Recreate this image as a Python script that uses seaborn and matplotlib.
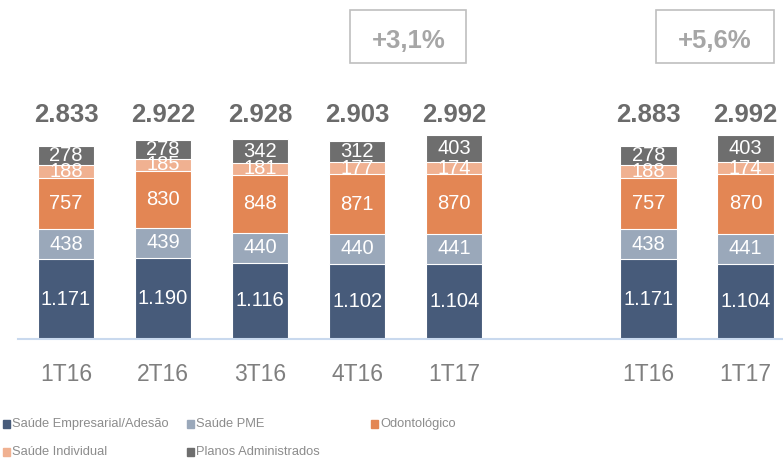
import numpy as np
import pandas as pd
import seaborn as sns
import matplotlib.pyplot as plt
from matplotlib.patches import Rectangle

# data
periods = ['1T16', '2T16', '3T16', '4T16', '1T17', '1T16', '1T17']
positions = [0, 1, 2, 3, 4, 6, 7]
series_names = ['Saúde Empresarial/Adesão', 'Saúde PME', 'Odontológico',
                'Saúde Individual', 'Planos Administrados']
empresarial = [1171, 1190, 1116, 1102, 1104, 1171, 1104]
pme = [438, 439, 440, 440, 441, 438, 441]
odonto = [757, 830, 848, 871, 870, 757, 870]
individual = [188, 185, 181, 177, 174, 188, 174]
administrados = [278, 278, 342, 312, 403, 278, 403]
totals = ['2.833', '2.922', '2.928', '2.903', '2.992', '2.883', '2.992']
growth = ['+3,1%', '+5,6%']

colors = ['#475B7A', '#9AA8BA', '#E38654', '#F0B191', '#6E6E6E']

sns.set_theme(style='white')
plt.rcParams['font.family'] = ['Liberation Sans', 'DejaVu Sans']

df = pd.DataFrame({'pos': positions, 'period': periods,
                   'Saúde Empresarial/Adesão': empresarial,
                   'Saúde PME': pme, 'Odontológico': odonto,
                   'Saúde Individual': individual,
                   'Planos Administrados': administrados})
cum = df[series_names].cumsum(axis=1)

fig = plt.figure(figsize=(7.83, 4.59), dpi=100)
ax = fig.add_axes([18 / 783, 120 / 459, 765 / 783, 339 / 459])

# stacked bars: draw cumulative heights from top layer down
for name, c in reversed(list(zip(series_names, colors))):
    sns.barplot(x=df['pos'], y=cum[name], native_scale=True, width=0.58,
                color=c, edgecolor='white', linewidth=0.8, ax=ax,
                errorbar=None, saturation=1)

# segment labels
for name in series_names:
    mids = cum[name] - df[name] / 2
    for p, m, v in zip(df['pos'], mids, df[name]):
        txt = f'{v:,}'.replace(',', '.')
        ax.text(p, m, txt, ha='center', va='center', color='white',
                fontsize=14.5)

# totals
for p, t in zip(df['pos'], totals):
    ax.text(p, 3182, t, ha='center', va='baseline', fontsize=18.5,
            fontweight='bold', color='#6B6B6B')

# growth boxes
for (x0, x1), g in zip([(2.93, 4.125), (6.08, 7.29)], growth):
    ax.add_patch(Rectangle((x0, 4047), x1 - x0, 777, fill=False,
                           edgecolor='#BFBFBF', linewidth=1.2, clip_on=False))
    ax.text((x0 + x1) / 2, 4267, g, ha='center', va='baseline', fontsize=18.5,
            fontweight='bold', color='#A6A6A6')

ax.set_xlim(-0.494, 7.386)
ax.set_ylim(0, 4971)
ax.set_xticks(positions)
ax.set_xticklabels(periods, fontsize=16.5, color='#7F7F7F')
ax.tick_params(axis='x', length=0, pad=17)
ax.set_yticks([])
ax.set_xlabel('')
ax.set_ylabel('')
for s in ['top', 'left', 'right']:
    ax.spines[s].set_visible(False)
ax.spines['bottom'].set_color('#C9D9EE')
ax.spines['bottom'].set_linewidth(1.5)

# legend
leg_pos = [(3, 424), (187, 424), (371, 424), (3, 452), (187, 452)]
for (lx, ly), name, c in zip(leg_pos, series_names, colors):
    fig.patches.append(Rectangle((lx / 783, (459 - ly - 4) / 459), 7 / 783, 8 / 459,
                                 transform=fig.transFigure, color=c))
    fig.text((lx + 9) / 783, (459 - ly) / 459, name, ha='left', va='center',
             fontsize=9.3, color='#8C8C8C')

fig.savefig('out.png', dpi=100)
